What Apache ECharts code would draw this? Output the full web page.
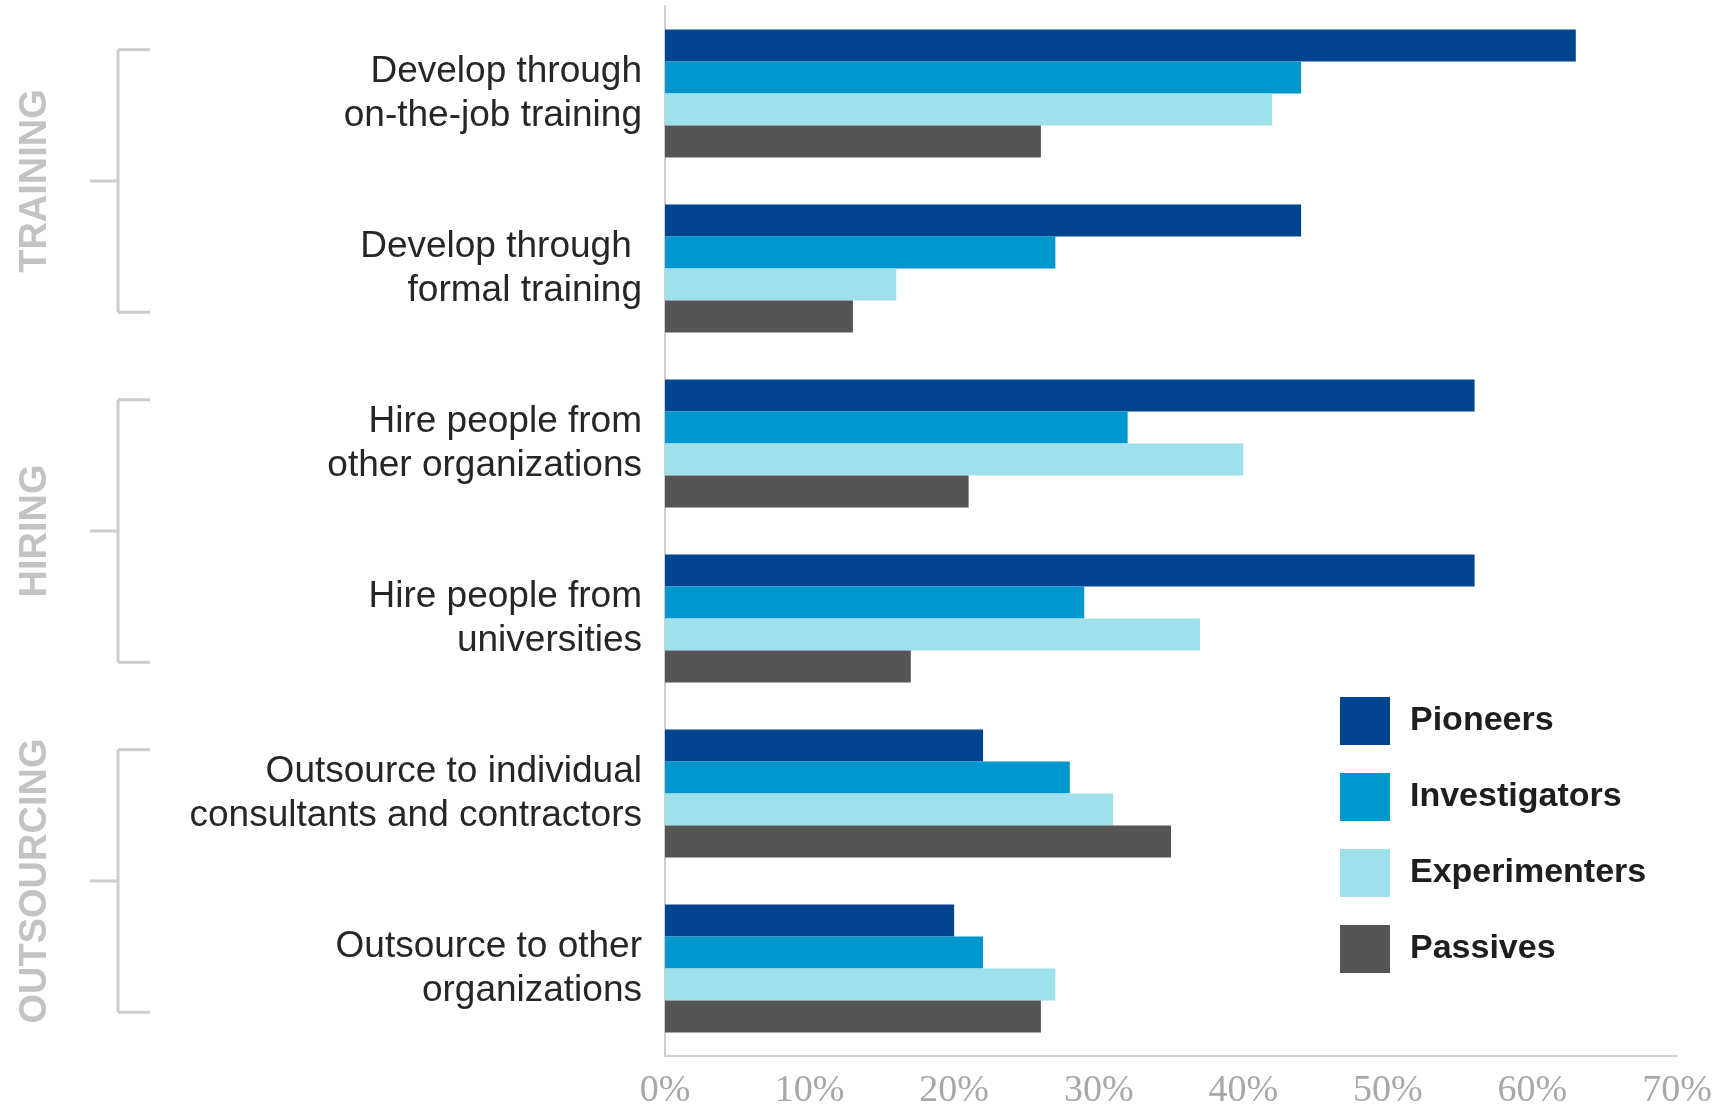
<!DOCTYPE html>
<html><head><meta charset="utf-8">
<script src="https://cdn.jsdelivr.net/npm/echarts@6/dist/echarts.min.js"></script>
<style>html,body{margin:0;padding:0;background:#fff}#c{width:1717px;height:1113px}</style>
</head><body><div id="c"></div>
<script>
const categories = [
  'Develop through\non-the-job training',
  'Develop through \nformal training',
  'Hire people from\nother organizations',
  'Hire people from\nuniversities',
  'Outsource to individual\nconsultants and contractors',
  'Outsource to other\norganizations'
];
const seriesNames = ['Pioneers', 'Investigators', 'Experimenters', 'Passives'];
const pioneers      = [63, 44, 56, 56, 22, 20];
const investigators = [44, 27, 32, 29, 28, 22];
const experimenters = [42, 16, 40, 37, 31, 27];
const passives      = [26, 13, 21, 17, 35, 26];
const xMin = 0, xMax = 70, xInterval = 10;
const groupNames = ['TRAINING', 'HIRING', 'OUTSOURCING'];
const groupFirst = [0, 2, 4];
const groupLast  = [1, 3, 5];

const colors = ['#00448f', '#0097cf', '#9ee0ec', '#555555'];
const values = [pioneers, investigators, experimenters, passives];

const chart = echarts.init(document.getElementById('c'), null, {renderer: 'canvas'});
const option = {
  animation: false,
  backgroundColor: '#fff',
  grid: {left: 665, right: 40, top: 6, bottom: 57, containLabel: false},
  legend: {
    data: seriesNames,
    orient: 'vertical',
    left: 1340, top: 697, padding: 0,
    icon: 'rect',
    itemWidth: 50, itemHeight: 48, itemGap: 28,
    selectedMode: false,
    textStyle: {fontFamily: 'Liberation Sans', fontSize: 34, fontWeight: 'bold', color: '#1e1e1e', padding: [0, 0, 0, 15]}
  },
  xAxis: {
    type: 'value', min: xMin, max: xMax, interval: xInterval,
    axisLine: {show: true, lineStyle: {color: '#cfcfcf', width: 2}},
    axisTick: {show: false},
    splitLine: {show: false},
    axisLabel: {formatter: '{value}%', color: '#a8a8a8', fontFamily: 'Liberation Sans Narrow', fontSize: 38, margin: 16}
  },
  yAxis: {
    type: 'category', data: categories, inverse: true,
    axisLine: {show: true, lineStyle: {color: '#cfcfcf', width: 2}},
    axisTick: {show: false},
    axisLabel: {color: '#262626', fontFamily: 'Liberation Sans', fontSize: 37, lineHeight: 44, margin: 23, align: 'right'}
  },
  series: seriesNames.map((n, i) => ({
    name: n, type: 'bar', data: values[i], barWidth: 32, barGap: '0%',
    itemStyle: {color: colors[i]}
  }))
};
chart.setOption(option);

const g = [];
const lineStyle = {stroke: '#cccccc', lineWidth: 3};
for (let k = 0; k < groupNames.length; k++) {
  const y1c = chart.convertToPixel({yAxisIndex: 0}, categories[groupFirst[k]]);
  const y2c = chart.convertToPixel({yAxisIndex: 0}, categories[groupLast[k]]);
  const band = chart.getModel().getComponent('yAxis', 0).axis.getBandWidth();
  const yt = y1c - band / 4, yb = y2c + band / 4, ym = (yt + yb) / 2;
  const xv = 118;
  g.push({type: 'line', shape: {x1: xv, y1: yt, x2: xv, y2: yb}, style: lineStyle, silent: true});
  g.push({type: 'line', shape: {x1: xv, y1: yt, x2: 150, y2: yt}, style: lineStyle, silent: true});
  g.push({type: 'line', shape: {x1: xv, y1: yb, x2: 150, y2: yb}, style: lineStyle, silent: true});
  g.push({type: 'line', shape: {x1: 90, y1: ym, x2: xv, y2: ym}, style: lineStyle, silent: true});
  g.push({type: 'text', x: 36, y: ym, rotation: Math.PI / 2, silent: true,
    style: {text: groupNames[k], fill: '#c3c3c3', font: 'bold 38px "Liberation Sans"', textAlign: 'center', textVerticalAlign: 'middle'}});
}
chart.setOption({graphic: g});
</script></body></html>
